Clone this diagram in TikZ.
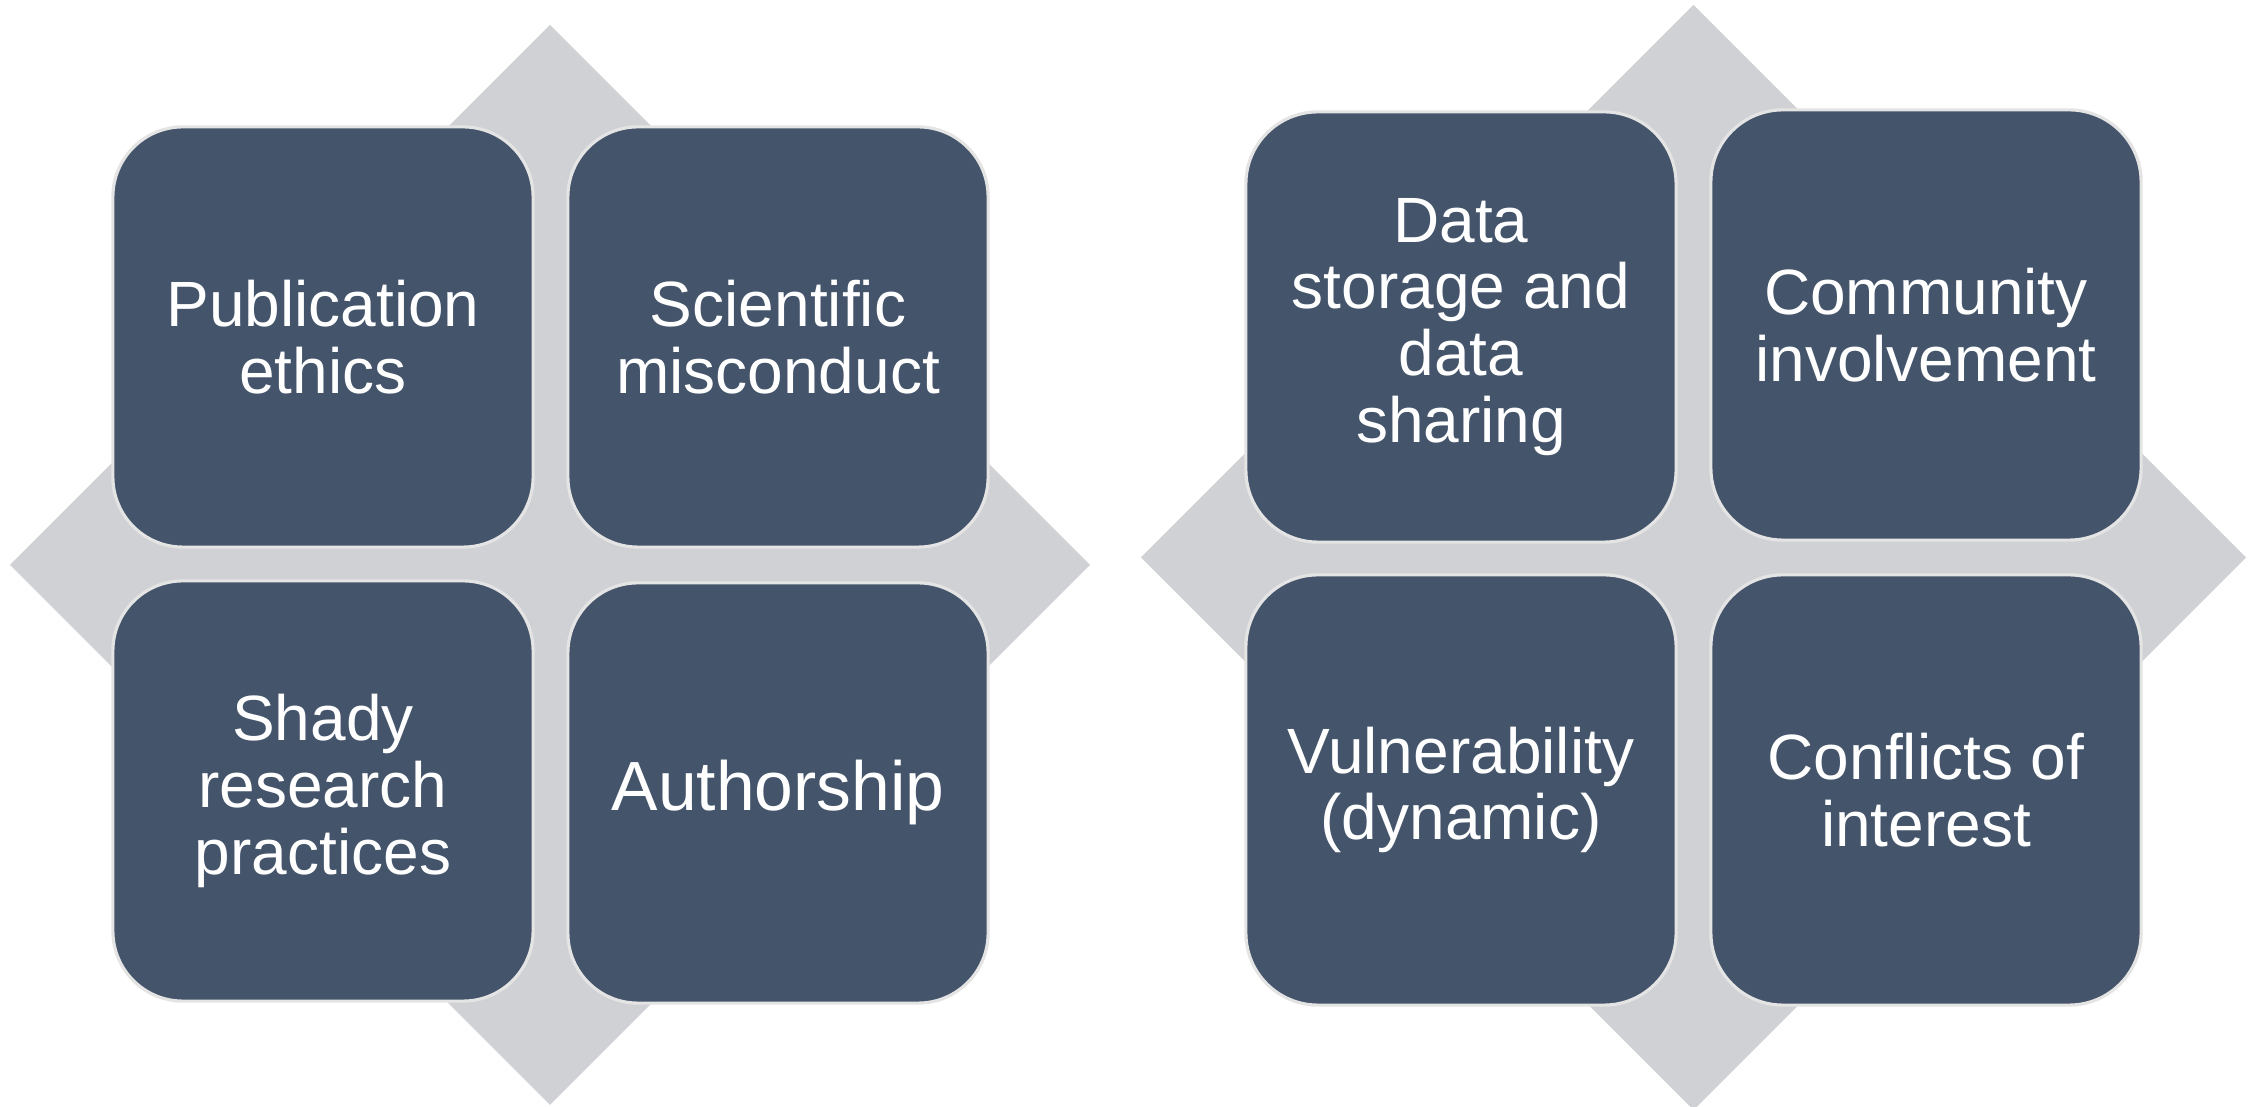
\documentclass[tikz,border=0pt]{standalone}
\usepackage{fontspec}
\setmainfont{Liberation Sans}
\definecolor{slate}{HTML}{44546A}
\definecolor{diamondgray}{HTML}{D0D1D4}
\definecolor{edgegray}{HTML}{E4E4E4}
\tikzset{
  tile/.style={draw=edgegray, line width=0.9pt, fill=slate, rounded corners=0.7cm,
    minimum width=4.2cm, minimum height=4.2cm, inner sep=0pt,
    text=white, align=center, font=\fontsize{18.2}{19}\selectfont},
  bigtile/.style={tile, rounded corners=0.72cm, minimum width=4.3cm, minimum height=4.3cm}
}
\begin{document}
\begin{tikzpicture}[x=0.01cm,y=-0.01cm]
  \useasboundingbox (0,0) rectangle (2262,1107);
  % grey diamonds behind the tiles
  \fill[diamondgray] (550,25) -- (1090,565) -- (550,1105) -- (10,565) -- cycle;
  \fill[diamondgray] (1693.5,5) -- (2246,557.5) -- (1693.5,1110) -- (1141,557.5) -- cycle;
  % left block
  \node[tile] (pub)  at (323,337) {Publication\\ethics};
  \node[tile] (mis)  at (778,337) {Scientific\\misconduct};
  \node[tile] (shady) at (323,791) {Shady\\research\\practices};
  \node[tile, font=\fontsize{19.8}{20.5}\selectfont] (auth) at (778,793) {Authorship};
  % right block
  \node[bigtile] (data) at (1461,327) {Data\\storage and\\data\\sharing};
  \node[bigtile] (comm) at (1926,325) {Community\\involvement};
  \node[bigtile] (vuln) at (1461,790) {Vulnerability\\(dynamic)};
  \node[bigtile] (coi)  at (1926,790) {Conflicts of\\interest};
\end{tikzpicture}
\end{document}
